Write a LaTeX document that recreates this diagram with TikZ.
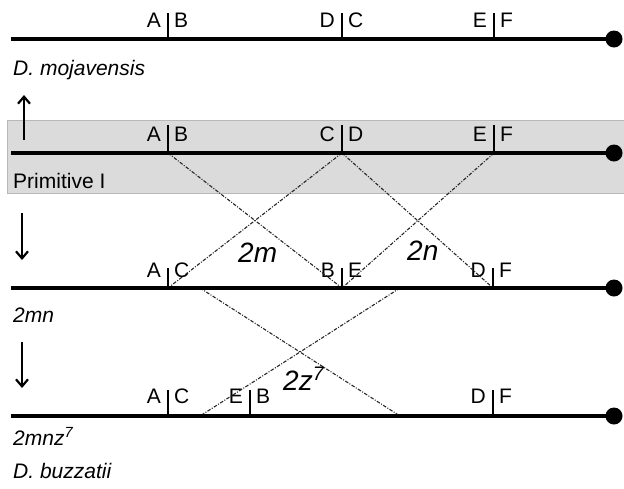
\documentclass[tikz,border=0pt]{standalone}
\usepackage{fontspec}
\setmainfont{Liberation Sans}
\usetikzlibrary{arrows.meta}
% break point: name, x, line y, tick top, label baseline, left gene, right gene
\newcommand\brkpt[7]{%
  \coordinate (#1) at (#2,#3);
  \draw[tick] (#1) -- (#2,#4);
  \node[lab,anchor=base east] (#1l) at (#2-7,#5) {#6};
  \node[lab,anchor=base west] (#1r) at (#2+6,#5) {#7};}
\begin{document}
\begin{tikzpicture}[x=1pt,y=-1pt,
  chrom/.style={line width=4.2pt},
  tick/.style={line width=1.7pt},
  lab/.style={font=\fontsize{21}{21}\selectfont, inner sep=0pt},
  big/.style={font=\fontsize{28}{28}\selectfont\itshape, inner sep=0pt, anchor=base west},
  arrname/.style={font=\fontsize{21}{21}\selectfont, inner sep=0pt, anchor=base west},
  swap/.style={line width=1.1pt, draw=black!85, dash pattern=on 3.5pt off 1.5pt on 1pt off 1.5pt},
  evo/.style={line width=2.2pt, -{Straight Barb[length=7pt,width=12pt,line width=2.2pt]}}]
\useasboundingbox (0,0) rectangle (624,488);

% shaded band of the primitive arrangement
\fill[black!14] (7,120) rectangle (624,193);
\draw[black!28, line width=1pt] (624,120) -- (7,120) -- (7,193) -- (624,193);

% chromosome ends
\coordinate (s1) at (11,39);  \coordinate (e1) at (614,39);
\coordinate (s2) at (11,153); \coordinate (e2) at (614,153);
\coordinate (s3) at (11,288); \coordinate (e3) at (614,288);
\coordinate (s4) at (11,416); \coordinate (e4) at (614,416);

% break points
\brkpt{m1}{168}{39}{13}{27}{A}{B}
\brkpt{m2}{342}{39}{13}{27}{D}{C}
\brkpt{m3}{494}{39}{13}{27}{E}{F}
\brkpt{p1}{168}{153}{125}{141}{A}{B}
\brkpt{p2}{342}{153}{125}{141}{C}{D}
\brkpt{p3}{494}{153}{125}{141}{E}{F}
\brkpt{q1}{168}{288}{268}{277}{A}{C}
\brkpt{q2}{342}{288}{268}{277}{B}{E}
\brkpt{q3}{493}{288}{268}{277}{D}{F}
\brkpt{r1}{168}{416}{390}{403}{A}{C}
\brkpt{r2}{250}{416}{390}{403}{E}{B}
\brkpt{r3}{493}{416}{390}{403}{D}{F}

% inversion end points on the 2mn and 2mnz7 chromosomes
\coordinate (u1) at (200,288); \coordinate (u2) at (400,288);
\coordinate (w1) at (200,416); \coordinate (w2) at (400,416);

% inversions
\draw[swap] (p1) -- (q2);
\draw[swap] (p2) -- (q1);
\draw[swap] (p2) -- (q3);
\draw[swap] (p3) -- (q2);
\draw[swap] (u1) -- (w2);
\draw[swap] (u2) -- (w1);

% chromosomes
\foreach \i in {1,2,3,4} {
  \draw[chrom] (s\i) -- (e\i);
  \fill (e\i) circle (8.5);
}

% inversion names
\node[big] (inv2m) at (238,262) {2m};
\node[big] (inv2n) at (407,260) {2n};
\node[big] (inv2z) at (283,390) {2z\textsuperscript{7}};

% arrangement names
\node[arrname] (mojav) at (13,75) {\itshape D. mojavensis};
\node[arrname] (prim) at (13,188) {Primitive I};
\node[arrname] (arr2mn) at (13,322) {\itshape 2mn};
\node[arrname] (arr2mnz) at (13,445) {\itshape 2mnz\textsuperscript{7}};
\node[arrname] (buzz) at (13,478) {\itshape D. buzzatii};

% direction of evolution
\coordinate (a0) at (24,140); \coordinate (a1) at (24,95);
\coordinate (b0) at (22,213); \coordinate (b1) at (22,260);
\coordinate (c0) at (22,342); \coordinate (c1) at (22,388);
\draw[evo] (a0) -- (a1);
\draw[evo] (b0) -- (b1);
\draw[evo] (c0) -- (c1);
\end{tikzpicture}
\end{document}
